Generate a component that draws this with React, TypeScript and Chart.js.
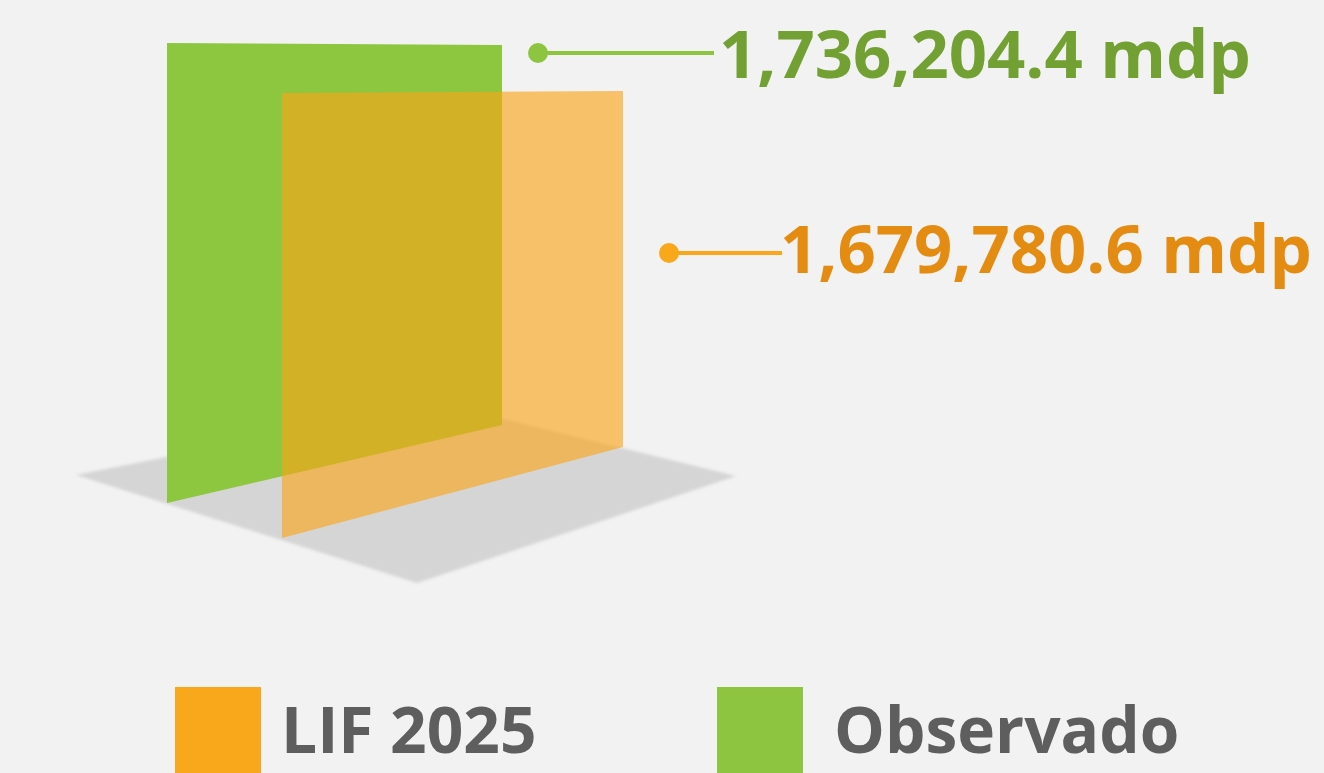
import React, { useEffect, useRef } from 'react';
import { Chart, registerables } from 'chart.js';

Chart.register(...registerables);

// ---------- data ----------
const categories = ['Ingresos'];
const seriesNames = ['LIF 2025', 'Observado'];
const lifValues = [1679780.6];
const observadoValues = [1736204.4];
const unitLabel = 'mdp';

// ---------- style ----------
const W = 1324;
const H = 773;
const BG = '#f2f2f2';
const FILL = ['rgba(248,166,26,0.64)', '#8dc63f'];
const TEXT_COLORS = ['#e48c12', '#72a032'];
const LEGEND_COLORS = ['#f9a81b', '#8dc541'];
const LEGEND_TEXT = '#5e5e5e';
const FLOOR = '#d5d5d5';

// perspective tweaks for each dataset panel (pixels)
const PANEL = [
  { dx: 115, dy: 35, dw: 6, topRightDy: -2, baseRightDy: -91 },
  { dx: 0, dy: 0, dw: 0, topRightDy: 2, baseRightDy: -78 },
];
const LEADER = [
  { dotDx: 46, dotDy: 162, lineEnd: 782, textX: 780, baseline: 273 },
  { dotDx: 36, dotDy: 8, lineEnd: 714, textX: 719, baseline: 78 },
];
const LEGEND_POS = [
  { box: 175, text: 281 },
  { box: 717, text: 834 },
];

const fmt = (v: number) =>
  v.toLocaleString('en-US', { minimumFractionDigits: 1, maximumFractionDigits: 1 }) + ' ' + unitLabel;

const panelPlugin = {
  id: 'panels',
  afterDatasetsDraw(chart: any) {
    const ctx = chart.ctx;
    const geo: any[] = [];
    chart.data.datasets.forEach((ds: any, i: number) => {
      const el = chart.getDatasetMeta(i).data[0];
      const p = PANEL[i];
      const half = el.width / 2;
      const left = el.x - half + p.dx;
      const right = el.x + half + p.dx + p.dw;
      const top = el.y + p.dy;
      const base = el.base + p.dy;
      geo[i] = { left, right, top, base, topR: top + p.topRightDy, baseR: base + p.baseRightDy };
    });

    // floor, anchored to back panel base-left corner
    const g = geo[1];
    ctx.save();
    ctx.filter = 'blur(1.5px)';
    ctx.fillStyle = FLOOR;
    ctx.beginPath();
    ctx.moveTo(g.left - 91, g.base - 28);
    ctx.lineTo(g.left + 272, g.base - 100);
    ctx.lineTo(g.left + 569, g.base - 27);
    ctx.lineTo(g.left + 250, g.base + 80);
    ctx.closePath();
    ctx.fill();
    ctx.restore();

    // panels: back (Observado) first, then front (LIF)
    [1, 0].forEach((i) => {
      const q = geo[i];
      ctx.save();
      ctx.fillStyle = FILL[i];
      ctx.beginPath();
      ctx.moveTo(q.left, q.top);
      ctx.lineTo(q.right, q.topR);
      ctx.lineTo(q.right, q.baseR);
      ctx.lineTo(q.left, q.base);
      ctx.closePath();
      ctx.fill();
      ctx.restore();
    });

    // leader lines and value labels
    [1, 0].forEach((i) => {
      const q = geo[i];
      const L = LEADER[i];
      const cx = q.right + L.dotDx;
      const cy = q.topR + L.dotDy;
      ctx.save();
      ctx.strokeStyle = LEGEND_COLORS[i];
      ctx.fillStyle = LEGEND_COLORS[i];
      ctx.lineWidth = 4;
      ctx.beginPath();
      ctx.moveTo(cx, cy);
      ctx.lineTo(L.lineEnd, cy);
      ctx.stroke();
      ctx.beginPath();
      ctx.arc(cx, cy, 10, 0, Math.PI * 2);
      ctx.fill();
      const v = chart.data.datasets[i].data[0];
      ctx.fillStyle = TEXT_COLORS[i];
      ctx.font = 'bold 67px "Open Sans"';
      ctx.textBaseline = 'alphabetic';
      ctx.textAlign = 'left';
      ctx.fillText(fmt(v), L.textX, L.baseline);
      ctx.restore();
    });

    // legend
    chart.data.datasets.forEach((ds: any, i: number) => {
      const P = LEGEND_POS[i];
      ctx.save();
      ctx.fillStyle = LEGEND_COLORS[i];
      ctx.fillRect(P.box, 687, 86, 90);
      ctx.fillStyle = LEGEND_TEXT;
      ctx.font = 'bold 64px "Open Sans"';
      ctx.textBaseline = 'alphabetic';
      ctx.textAlign = 'left';
      ctx.fillText(ds.label, P.text, 753);
      ctx.restore();
    });
  },
};

export default function App() {
  const ref = useRef<HTMLCanvasElement | null>(null);
  useEffect(() => {
    if (!ref.current) return;
    const maxV = Math.max(...lifValues, ...observadoValues);
    const chart = new Chart(ref.current, {
      type: 'bar',
      data: {
        labels: categories,
        datasets: [
          { label: seriesNames[0], data: lifValues, backgroundColor: 'rgba(0,0,0,0)', borderWidth: 0, grouped: false, barPercentage: 1, categoryPercentage: 1 } as any,
          { label: seriesNames[1], data: observadoValues, backgroundColor: 'rgba(0,0,0,0)', borderWidth: 0, grouped: false, barPercentage: 1, categoryPercentage: 1 } as any,
        ],
      },
      options: {
        responsive: false,
        animation: false,
        devicePixelRatio: 1,
        events: [],
        layout: { padding: { left: 167, right: W - 502, top: 43, bottom: H - 503 } },
        scales: {
          x: { display: false },
          y: { display: false, min: 0, max: maxV },
        },
        plugins: { legend: { display: false }, tooltip: { enabled: false } },
      },
      plugins: [panelPlugin],
    });
    return () => chart.destroy();
  }, []);
  return (
    <div style={{ position: 'fixed', left: 0, top: 0, width: W, height: H, background: BG, overflow: 'hidden' }}>
      <canvas ref={ref} width={W} height={H} style={{ display: 'block' }} />
    </div>
  );
}
